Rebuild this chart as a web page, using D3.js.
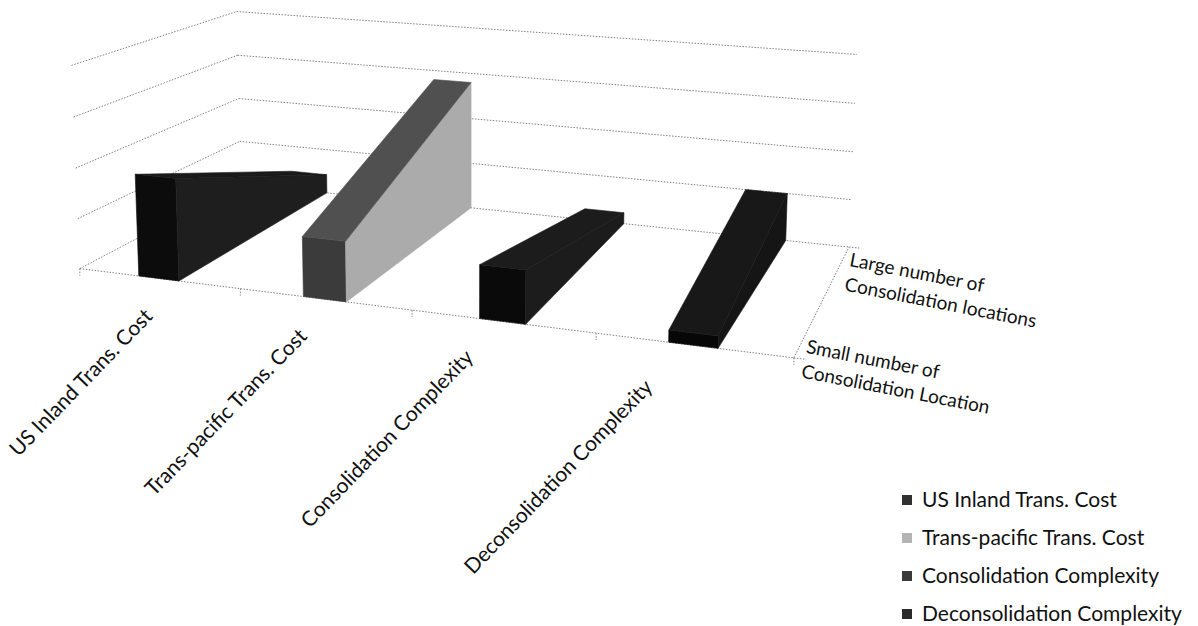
<!DOCTYPE html>
<html>
<head>
<meta charset="utf-8">
<script src="https://cdn.jsdelivr.net/npm/d3@7"></script>
<style>
    body { margin: 0; background: #fff; }
    svg { display: block; }
    text { font-family: Lato, "Open Sans", sans-serif; fill: #111; }
</style>
</head>
<body>
<script>
(function(){

    // Chart data
    var categories = ["US Inland Trans. Cost", "Trans-pacific Trans. Cost", "Consolidation Complexity", "Deconsolidation Complexity"];
    var depthNames = ["Small number of Consolidation Location", "Large number of Consolidation locations"];
    var depthLines = [["Small number of", "Consolidation Location"], ["Large number of", "Consolidation locations"]];
    var smallValues = [2.0, 1.15, 1.0, 0.22];
    var largeValues = [0.42, 2.8, 0.24, 1.0];
    var valueTicks = [0, 1, 2, 3, 4];

    // Face shades (front, top, side) and legend swatches
    var frontFill = ["#0c0c0c", "#3b3b3b", "#0a0a0a", "#070707"];
    var topFill = ["#1a1a1a", "#505050", "#1c1c1c", "#181818"];
    var sideFill = ["#1e1e1e", "#ababab", "#1c1c1c", "#151515"];
    var legendFill = ["#303030", "#b4b4b4", "#3a3a3a", "#2a2a2a"];

    var width = 1198, height = 626;

    var svg = d3.select("body")
        .append("svg")
        .attr("width", width)
        .attr("height", height);

    // world: X = category axis 0..4, Y = value 0..4, Z = depth 0 (front) .. 1 (back)
    // calibration of the perspective camera against the frame of the plot box
    var frame = [
        [0, 0, 0, 82, 268], [4, 0, 0, 792, 357], [0, 0, 1, 240, 185], [4, 0, 1, 850, 245],
        [0, 4, 1, 236, 12], [4, 4, 1, 857, 55], [0, 4, 0, 71, 65],
        [1, 0, 0, 240, 288], [2, 0, 0, 412, 312], [3, 0, 0, 595, 335],
        [0, 2, 0, 77, 167], [0, 2, 1, 238, 98], [4, 2, 1, 854, 152]
    ];

    var cam = fitCamera(frame);
    var project = cam.project;

    var xScale = d3.scaleBand()
        .domain(categories)
        .range([0, 4])
        .paddingInner(0.75)
        .paddingOuter(0.375);

    var yScale = d3.scaleLinear()
        .domain([0, 4])
        .range([0, 4]);

    var zScale = d3.scalePoint()
        .domain(depthNames)
        .range([0, 1]);

    var line = d3.line();

    function seg(a, b){
        return line([project(a[0], a[1], a[2]), project(b[0], b[1], b[2])]);
    }

    // walls: gridlines
    var grid = svg.append("g").attr("class", "grid")
        .attr("fill", "none")
        .attr("stroke", "#808080")
        .attr("stroke-width", 1)
        .attr("stroke-dasharray", "1.5,1.5");

    valueTicks.forEach(function(t){
        var y = yScale(t);
        grid.append("path").attr("d", seg([0, y, 1], [4, y, 1]));
        grid.append("path").attr("d", seg([0, y, 0], [0, y, 1]));
    });

    // floor edges (category + depth axes)
    grid.append("path").attr("d", seg([0, 0, 0], [4, 0, 0]));
    grid.append("path").attr("d", seg([4, 0, 0], [4, 0, 1]));

    d3.range(0, 5).forEach(function(k){
        var p = project(k, 0, 0);
        grid.append("path").attr("d", line([p, [p[0], p[1] + 7]]));
    });
    [0, 1].forEach(function(z){
        var p = project(4, 0, z), q = project(4.06, 0, z);
        grid.append("path").attr("d", line([p, q]));
    });

    // ribbons
    var rows = categories.map(function(c, i){
        return { name: c, i: i, v0: smallValues[i], v1: largeValues[i] };
    });

    rows.forEach(function(d){
        var x0 = xScale(d.name), x1 = x0 + xScale.bandwidth();
        d.center = [(x0 + x1) / 2, 0, 0.5];
        var dx = cam.center[0] - d.center[0], dz = cam.center[2] - d.center[2];
        d.dist = Math.sqrt(dx * dx + dz * dz);
    });
    rows.sort(function(a, b){ return b.dist - a.dist; });

    var ribbons = svg.append("g").attr("class", "ribbons");

    rows.forEach(function(d){
        var x0 = xScale(d.name), x1 = x0 + xScale.bandwidth();
        var za = zScale(depthNames[0]), zb = zScale(depthNames[1]);
        var h0 = yScale(d.v0), h1 = yScale(d.v1);
        var slope = (h1 - h0) / (zb - za);

        var faces = [
            { pts: [[x0, 0, za], [x1, 0, za], [x1, h0, za], [x0, h0, za]], n: [0, 0, -1], fill: frontFill[d.i] },
            { pts: [[x0, 0, zb], [x1, 0, zb], [x1, h1, zb], [x0, h1, zb]], n: [0, 0, 1], fill: frontFill[d.i] },
            { pts: [[x0, 0, za], [x0, 0, zb], [x0, h1, zb], [x0, h0, za]], n: [-1, 0, 0], fill: sideFill[d.i] },
            { pts: [[x1, 0, za], [x1, 0, zb], [x1, h1, zb], [x1, h0, za]], n: [1, 0, 0], fill: sideFill[d.i] },
            { pts: [[x0, h0, za], [x1, h0, za], [x1, h1, zb], [x0, h1, zb]], n: [0, 1, -slope], fill: topFill[d.i] }
        ];

        var g = ribbons.append("g").attr("class", "ribbon");
        faces.forEach(function(f){
            var q = f.pts[0];
            var dot = (cam.center[0] - q[0]) * f.n[0] + (cam.center[1] - q[1]) * f.n[1] + (cam.center[2] - q[2]) * f.n[2];
            if (dot <= 0) return;
            g.append("path")
                .attr("d", line(f.pts.map(function(p){ return project(p[0], p[1], p[2]); })) + "Z")
                .attr("fill", f.fill)
                .attr("stroke", f.fill)
                .attr("stroke-width", 0.6);
        });
    });

    // category labels
    svg.append("g").selectAll("text")
        .data(categories)
        .enter()
        .append("text")
        .attr("text-anchor", "end")
        .attr("font-size", 21)
        .attr("transform", function(d, i){
            var p = project(xScale(d) + xScale.bandwidth() / 2, 0, 0);
            return "translate(" + (p[0] - 5 - 11.5 * i) + "," + (p[1] + 39 + (i === 3 ? 4 : -i)) + ") rotate(-46)";
        })
        .text(function(d){ return d; });

    // depth labels
    var labelZ = d3.scalePoint().domain(depthNames).range([0, 0.75]);
    var depthText = svg.append("g").selectAll("text")
        .data(depthNames)
        .enter()
        .append("text")
        .attr("font-size", 19)
        .attr("transform", function(d){
            var p = project(4, 0, labelZ(d));
            return "translate(" + (p[0] + 11.5) + "," + (p[1] - 5) + ") rotate(11)";
        });
    depthText.selectAll("tspan")
        .data(function(d, i){ return depthLines[i]; })
        .enter()
        .append("tspan")
        .attr("x", 0)
        .attr("dy", function(d, j){ return j === 0 ? 0 : 25; })
        .text(function(d){ return d; });

    // legend
    var legend = svg.append("g").attr("transform", "translate(902,507)");
    var item = legend.selectAll("g")
        .data(categories)
        .enter()
        .append("g")
        .attr("transform", function(d, i){ return "translate(0," + (i * 38) + ")"; });
    item.append("rect")
        .attr("x", 0).attr("y", -12)
        .attr("width", 10).attr("height", 10)
        .attr("fill", function(d, i){ return legendFill[i]; });
    item.append("text")
        .attr("x", 20).attr("y", 0)
        .attr("font-size", 21)
        .text(function(d){ return d; });

    // least squares fit of a 3x4 projection matrix (DLT) to the frame points
    function fitCamera(pts){
        var su = 500, sv = 200;
        var A = [], b = [];
        pts.forEach(function(p){
            var X = p[0], Y = p[1], Z = p[2], u = (p[3] - su) / su, v = (p[4] - sv) / sv;
            A.push([X, Y, Z, 1, 0, 0, 0, 0, -u * X, -u * Y, -u * Z]); b.push(u);
            A.push([0, 0, 0, 0, X, Y, Z, 1, -v * X, -v * Y, -v * Z]); b.push(v);
        });
        var n = 11, M = [];
        for (var i = 0; i < n; i++){
            M[i] = [];
            for (var j = 0; j <= n; j++){
                var s = 0;
                for (var k = 0; k < A.length; k++) s += A[k][i] * (j < n ? A[k][j] : b[k]);
                M[i][j] = s;
            }
        }
        for (var c = 0; c < n; c++){
            var piv = c;
            for (var r = c + 1; r < n; r++) if (Math.abs(M[r][c]) > Math.abs(M[piv][c])) piv = r;
            var tmp = M[c]; M[c] = M[piv]; M[piv] = tmp;
            for (r = 0; r < n; r++){
                if (r === c) continue;
                var f = M[r][c] / M[c][c];
                for (var kk = c; kk <= n; kk++) M[r][kk] -= f * M[c][kk];
            }
        }
        var p = M.map(function(row, i){ return row[n] / row[i]; });
        var P = [[p[0], p[1], p[2], p[3]], [p[4], p[5], p[6], p[7]], [p[8], p[9], p[10], 1]];

        function proj(X, Y, Z){
            var w = P[2][0] * X + P[2][1] * Y + P[2][2] * Z + P[2][3];
            var u = (P[0][0] * X + P[0][1] * Y + P[0][2] * Z + P[0][3]) / w;
            var v = (P[1][0] * X + P[1][1] * Y + P[1][2] * Z + P[1][3]) / w;
            return [u * su + su, v * sv + sv];
        }

        // camera centre: solve P[:, :3] C = -P[:, 3] (Cramer)
        function det3(m){
            return m[0][0] * (m[1][1] * m[2][2] - m[1][2] * m[2][1])
                 - m[0][1] * (m[1][0] * m[2][2] - m[1][2] * m[2][0])
                 + m[0][2] * (m[1][0] * m[2][1] - m[1][1] * m[2][0]);
        }
        var m3 = P.map(function(r){ return r.slice(0, 3); });
        var rhs = P.map(function(r){ return -r[3]; });
        var D = det3(m3);
        var C = [0, 1, 2].map(function(col){
            var mm = m3.map(function(r, ri){ var rr = r.slice(); rr[col] = rhs[ri]; return rr; });
            return det3(mm) / D;
        });

        return { project: proj, center: C };
    }

})();
</script>
</body>
</html>
